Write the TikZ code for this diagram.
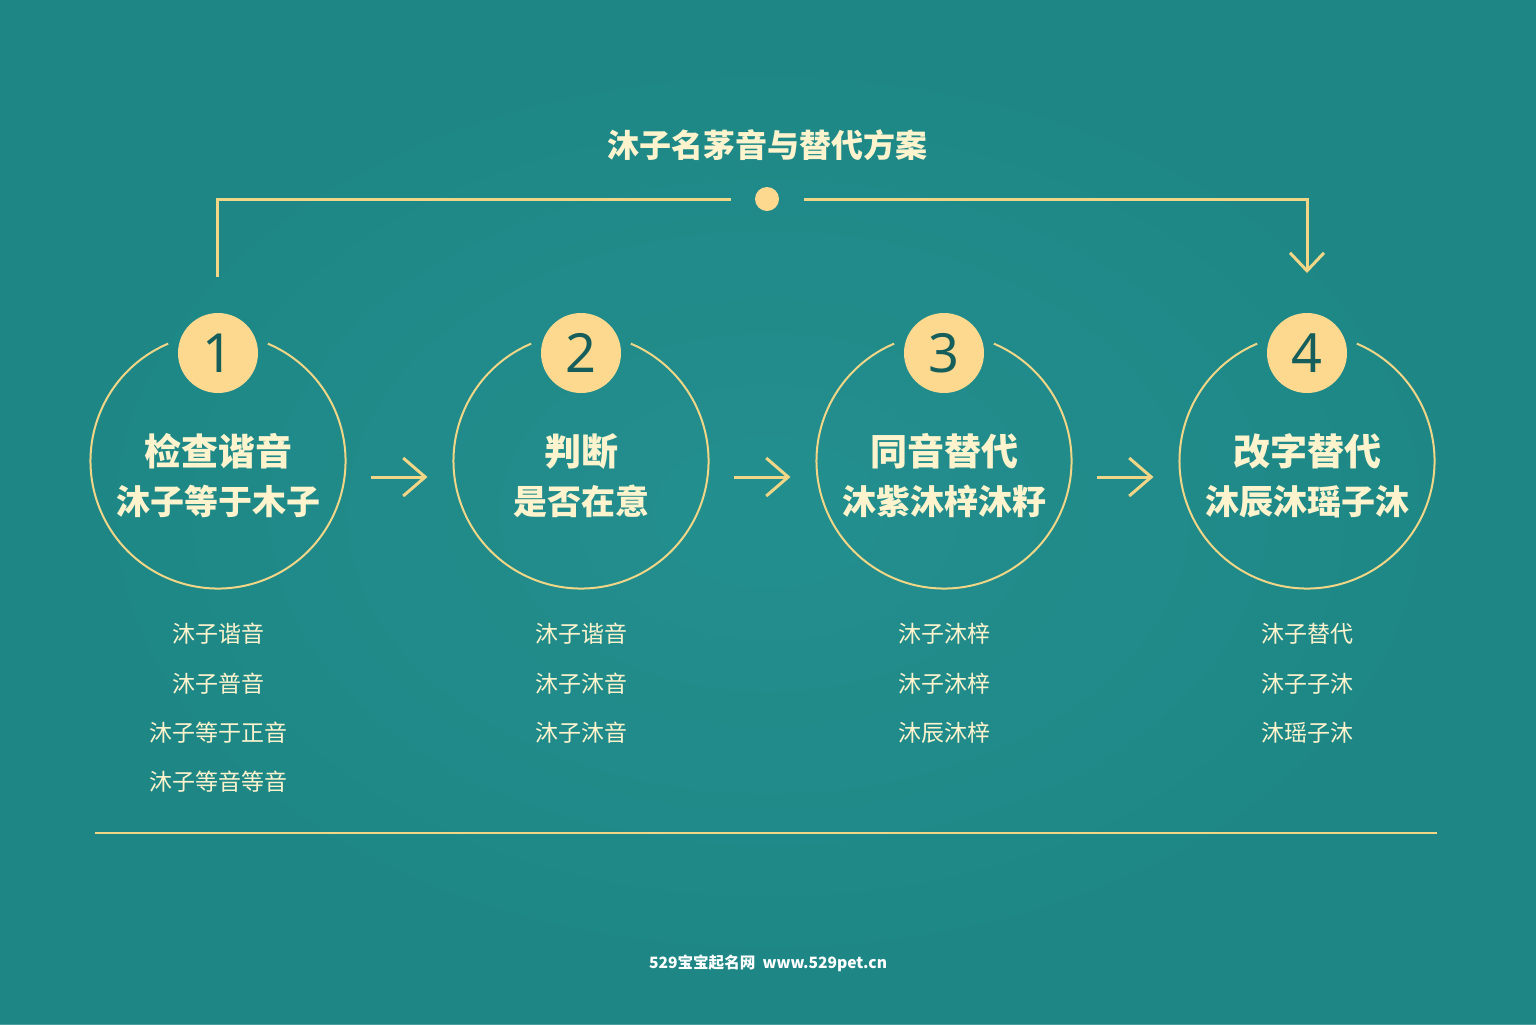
\documentclass[tikz,border=0pt]{standalone}
\usepackage{fontspec}
\setmainfont{Noto Sans CJK SC}
\newfontfamily\numfont{Noto Sans}
\usetikzlibrary{arrows.meta,calc}
\definecolor{bgteal}{RGB}{30,135,134}
\definecolor{bglight}{RGB}{36,145,144}
\definecolor{gold}{RGB}{240,214,134}
\definecolor{badgefill}{RGB}{252,217,142}
\definecolor{numcol}{RGB}{22,94,92}
\definecolor{cream}{RGB}{253,244,206}
\tikzset{
  ring/.style={circle,draw=none,minimum size=127.5pt,inner sep=0pt,outer sep=0pt},
  badge/.style={circle,fill=badgefill,minimum size=40pt,inner sep=0pt,outer sep=0pt,
    text=numcol,font=\numfont\fontsize{27}{30}\selectfont},
  ringtext/.style={align=center,text=cream,inner sep=0pt,font=\fontsize{17}{24.5}\bfseries\selectfont},
  item/.style={text=cream,inner sep=0pt,font=\fontsize{11.5}{13}\selectfont},
  gline/.style={draw=gold,line width=1.5pt},
  flowarr/.style={draw=gold,line width=1.5pt,-{Straight Barb[length=11pt,width=19pt]}},
  toparr/.style={draw=gold,line width=1.5pt,-{Straight Barb[length=9pt,width=17pt]}},
}
\newcommand{\lineA}{\fontsize{18.5}{24.5}\selectfont}
\begin{document}
\begin{tikzpicture}[x=0.5pt,y=0.5pt]
\useasboundingbox (0,0) rectangle (1536,-1024);
\fill[bgteal] (0,0) rectangle (1536,-1024);
\shade[inner color=bglight,outer color=bgteal,opacity=0.8] (0,0) rectangle (1536,-1024);

% title
\node[text=cream,font=\fontsize{16}{18}\bfseries\selectfont,inner sep=0pt] (title) at (767,-145) {沐子名茅音与替代方案};
\node[circle,fill=badgefill,minimum size=12pt,inner sep=0pt] (dot) at (767,-199) {};

% rings
\foreach \i/\x in {1/218,2/581,3/944,4/1307}{
  \node[ring] (c\i) at (\x,-461) {};
  \draw[draw=gold,line width=1pt] (c\i.113) arc[start angle=113,end angle=427,radius=63.75pt];
  \node[badge] (b\i) at (\x,-353) {\i};
}

% ring texts
\node[ringtext] (r1) at (218,-475.5) {{\lineA 检查谐音}\\沐子等于木子};
\node[ringtext] (r2) at (581,-475.5) {{\lineA 判断}\\是否在意};
\node[ringtext] (r3) at (944,-475.5) {{\lineA 同音替代}\\沐紫沐梓沐籽};
\node[ringtext] (r4) at (1307,-475.5) {{\lineA 改字替代}\\沐辰沐瑶子沐};

% flow arrows
\draw[flowarr] ([shift={(12.5pt,-8pt)}]c1.east) -- ([shift={(-13pt,-8pt)}]c2.west);
\draw[flowarr] ([shift={(12.5pt,-8pt)}]c2.east) -- ([shift={(-13pt,-8pt)}]c3.west);
\draw[flowarr] ([shift={(12.5pt,-8pt)}]c3.east) -- ([shift={(-13pt,-8pt)}]c4.west);

% top connector
\coordinate (t1) at (217,-277);
\draw[gline] (t1) |- ([xshift=-12pt]dot.west);
\draw[toparr] ([xshift=12.5pt]dot.east) -| ([yshift=20pt]b4.north);

% lists
\node[item] (l1a) at (218,-634) {沐子谐音};
\node[item] (l1b) at (218,-684) {沐子普音};
\node[item] (l1c) at (218,-733) {沐子等于正音};
\node[item] (l1d) at (218,-782) {沐子等音等音};
\node[item] (l2a) at (581,-634) {沐子谐音};
\node[item] (l2b) at (581,-684) {沐子沐音};
\node[item] (l2c) at (581,-733) {沐子沐音};
\node[item] (l3a) at (944,-634) {沐子沐梓};
\node[item] (l3b) at (944,-684) {沐子沐梓};
\node[item] (l3c) at (944,-733) {沐辰沐梓};
\node[item] (l4a) at (1307,-634) {沐子替代};
\node[item] (l4b) at (1307,-684) {沐子子沐};
\node[item] (l4c) at (1307,-733) {沐瑶子沐};

% bottom rule
\coordinate (bl) at (95,-833);
\coordinate (br) at (1437,-833);
\draw[draw=gold,line width=1pt] (bl) -- (br);

% footer
\node[text=white,font=\fontsize{7.8}{9}\bfseries\selectfont,inner sep=0pt] (foot) at (768,-963) {529宝宝起名网\ \ www.529pet.cn};
\end{tikzpicture}
\end{document}
